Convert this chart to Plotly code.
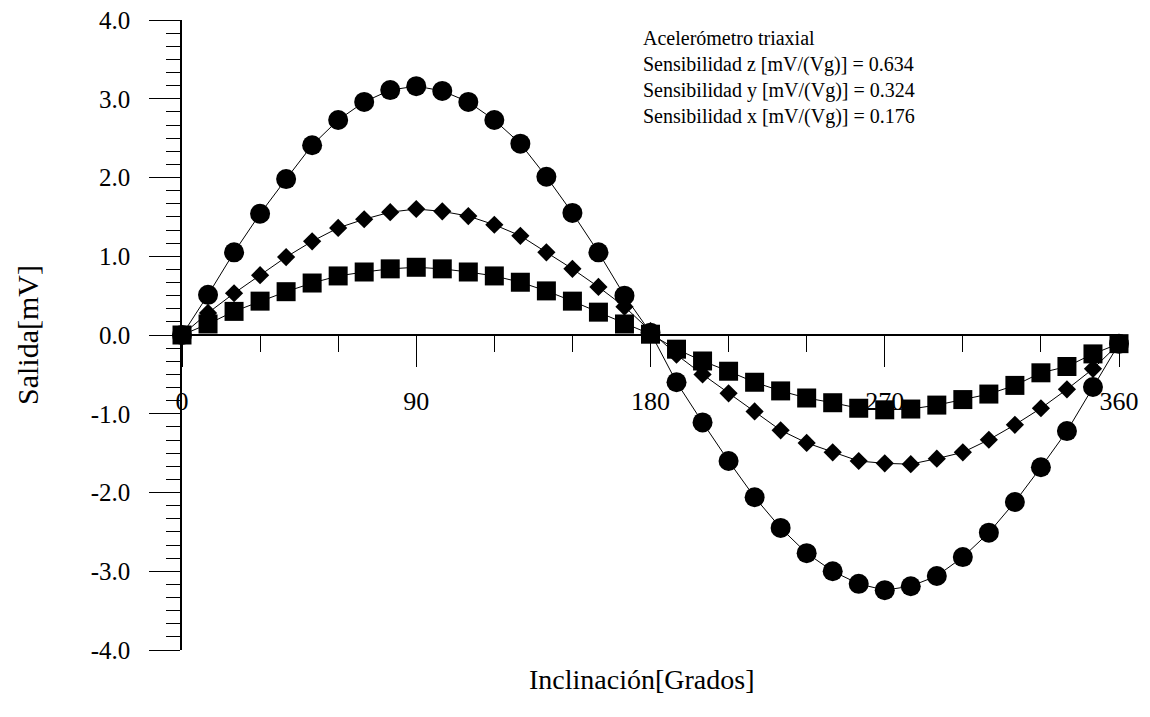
import plotly.graph_objects as go

angles = list(range(0, 361, 10))

z_out = [0.0, 0.51, 1.05, 1.54, 1.98, 2.41, 2.73, 2.96, 3.11, 3.16,
         3.10, 2.96, 2.73, 2.43, 2.01, 1.55, 1.05, 0.50, 0.03,
         -0.60, -1.11, -1.60, -2.06, -2.45, -2.77, -3.00, -3.16, -3.24,
         -3.19, -3.06, -2.82, -2.51, -2.12, -1.68, -1.22, -0.66, -0.11]

y_out = [0.0, 0.28, 0.53, 0.76, 0.99, 1.19, 1.36, 1.47, 1.56, 1.60,
         1.57, 1.51, 1.40, 1.26, 1.05, 0.84, 0.61, 0.36, 0.05,
         -0.25, -0.50, -0.74, -0.97, -1.21, -1.37, -1.49, -1.60, -1.63,
         -1.64, -1.57, -1.49, -1.33, -1.14, -0.93, -0.69, -0.43, -0.11]

x_out = [0.0, 0.14, 0.30, 0.43, 0.55, 0.66, 0.75, 0.80, 0.84, 0.86,
         0.84, 0.80, 0.75, 0.67, 0.56, 0.43, 0.29, 0.14, 0.01,
         -0.18, -0.33, -0.46, -0.60, -0.71, -0.80, -0.86, -0.93, -0.95,
         -0.94, -0.89, -0.82, -0.75, -0.64, -0.48, -0.40, -0.24, -0.11]

x_ticks = [0, 90, 180, 270, 360]
y_ticks = [-4.0, -3.0, -2.0, -1.0, 0.0, 1.0, 2.0, 3.0, 4.0]

info_lines = ["Acelerómetro triaxial",
              "Sensibilidad z [mV/(Vg)] = 0.634",
              "Sensibilidad y [mV/(Vg)] = 0.324",
              "Sensibilidad x [mV/(Vg)] = 0.176"]

FONT = "Liberation Serif"

fig = go.Figure()
series = [(z_out, "circle", 20), (y_out, "diamond", 14), (x_out, "square", 19)]
for vals, sym, size in series:
    fig.add_trace(go.Scatter(
        x=angles, y=vals, mode="lines+markers",
        line=dict(color="black", width=1),
        marker=dict(symbol=sym, size=size, color="black", line=dict(width=0)),
        cliponaxis=False, showlegend=False))

fig.update_layout(
    width=1150, height=717,
    margin=dict(l=174, r=39, t=12, b=75, autoexpand=False),
    paper_bgcolor="white", plot_bgcolor="white",
    font=dict(family=FONT, color="black"),
    xaxis=dict(
        range=[0, 360], anchor="free", position=0.5, automargin=False,
        showline=True, linecolor="black", linewidth=1.5,
        showgrid=False, zeroline=False,
        tickmode="array", tickvals=x_ticks, ticktext=[str(v) for v in x_ticks],
        ticks="outside", ticklen=31, tickwidth=1.2, tickcolor="black",
        minor=dict(dtick=30, tick0=0, ticks="outside", ticklen=16,
                   tickwidth=1.2, tickcolor="black", showgrid=False),
        tickfont=dict(family=FONT, size=26),
        ticklabelstandoff=12, ticklabeloverflow="allow",
    ),
    yaxis=dict(
        range=[-4, 4], domain=[0, 1], automargin=False,
        showline=True, linecolor="black", linewidth=1.5,
        showgrid=False, zeroline=False,
        tickmode="array", tickvals=y_ticks,
        ticktext=["%.1f" % v for v in y_ticks],
        ticks="outside", ticklen=31, tickwidth=1.2, tickcolor="black",
        minor=dict(dtick=1/6, tick0=0, ticks="outside", ticklen=14,
                   tickwidth=1.2, tickcolor="black", showgrid=False),
        tickfont=dict(family=FONT, size=25),
        ticklabelstandoff=14, ticklabeloverflow="allow",
    ),
    annotations=[
        dict(text="Inclinación[Grados]", xref="paper", yref="paper",
             x=(641 - 182) / 937, y=(650 - 679) / 630,
             xanchor="center", yanchor="middle", showarrow=False,
             font=dict(family=FONT, size=28)),
        dict(text="Salida[mV]", xref="paper", yref="paper",
             x=(27 - 182) / 937, y=0.5, textangle=-90,
             xanchor="center", yanchor="middle", showarrow=False,
             font=dict(family=FONT, size=30)),
        dict(text="<br>".join(info_lines), xref="paper", yref="paper",
             x=(641 - 182) / 937, y=(650 - 25) / 630,
             xanchor="left", yanchor="top", align="left", showarrow=False,
             font=dict(family=FONT, size=20)),
    ],
)

fig.write_html("out.html")
